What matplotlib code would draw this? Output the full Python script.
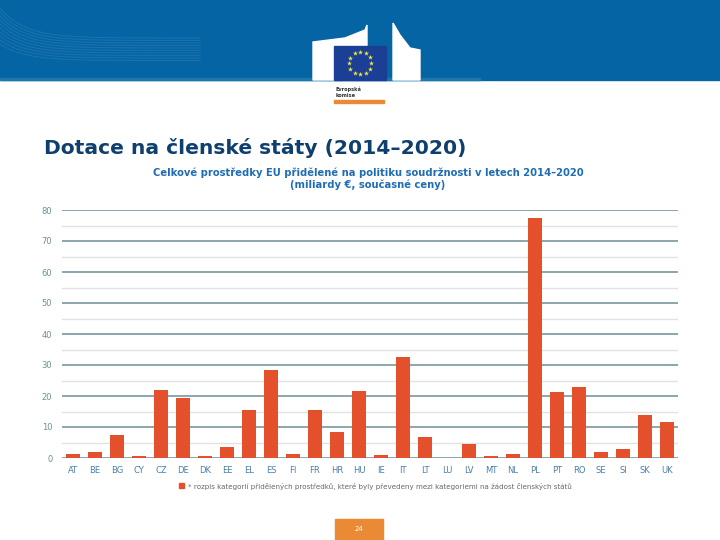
import matplotlib.pyplot as plt
import matplotlib.patches as patches
import numpy as np

# data (billions EUR)
countries = ["AT", "BE", "BG", "CY", "CZ", "DE", "DK", "EE", "EL", "ES", "FI", "FR", "HR", "HU",
             "IE", "IT", "LT", "LU", "LV", "MT", "NL", "PL", "PT", "RO", "SE", "SI", "SK", "UK"]
values = [1.3, 2.0, 7.5, 0.75, 21.9, 19.2, 0.55, 3.4, 15.5, 28.5, 1.4, 15.6, 8.5, 21.7,
          1.1, 32.7, 6.9, 0.06, 4.4, 0.7, 1.4, 77.5, 21.2, 22.8, 2.0, 3.0, 13.8, 11.7]
major_ticks = [0, 10, 20, 30, 40, 50, 60, 70, 80]
minor_ticks = [5, 15, 25, 35, 45, 55, 65, 75]

page_title = "Dotace na členské státy (2014–2020)"
chart_title = "Celkové prostředky EU přidělené na politiku soudržnosti v letech 2014–2020\n(miliardy €, současné ceny)"
legend_text = "* rozpis kategorií přidělených prostředků, které byly převedeny mezi kategoriemi na žádost členských států"
page_no = "24"

W, H = 720, 540
fig = plt.figure(figsize=(W / 100, H / 100), dpi=100)

# background layer in pixel coordinates
bg = fig.add_axes([0, 0, 1, 1])
bg.set_xlim(0, W)
bg.set_ylim(H, 0)
bg.axis("off")

# blue header band
bg.add_patch(patches.Rectangle((0, 0), W, 80, color="#0565a4", zorder=1))
bg.add_patch(patches.Rectangle((0, 78), 480, 2, color="#1f76ab", zorder=2))
# faint curved stripes on the left of the header
for i in range(10):
    xs = np.linspace(0, 200, 60)
    ys = 8 + i * 4 + (30 - i * 1.5) * (1 - np.exp(-xs / 25))
    bg.plot(xs, ys, color="#5d9ccb", lw=0.7, alpha=0.25, zorder=2)

# logo: building silhouette, flag, name and orange bar
bg.add_patch(patches.Polygon([(313, 80), (313, 42), (345, 38), (365, 30), (367, 25), (367, 80)],
                             color="white", zorder=3))
bg.add_patch(patches.Polygon([(393, 80), (393, 23), (400, 35), (410, 48), (420, 50), (420, 80)],
                             color="white", zorder=3))
bg.add_patch(patches.Rectangle((334, 46), 52, 34, color="#1c3f96", zorder=4))
ang = np.linspace(0, 2 * np.pi, 13)[:-1]
bg.scatter(360 + 11 * np.cos(ang), 63 + 11 * np.sin(ang), marker="*", s=14,
           color="#f5e93a", zorder=5, linewidths=0)
bg.text(336, 86, "Evropská\nkomise", fontsize=3.6, fontweight="bold", color="#333333",
        va="top", ha="left", zorder=5, linespacing=1.3)
bg.add_patch(patches.Rectangle((334, 100), 50, 3, color="#e98a35", zorder=4))

# page title
bg.text(44, 148, page_title, fontsize=14.6, fontweight="bold", color="#0f3f6e",
        ha="left", va="center", zorder=5)

# chart title
bg.text(368, 179, chart_title, fontsize=7.2, fontweight="bold", color="#1f6db4",
        ha="center", va="center", linespacing=1.15, zorder=5)

# legend line
bg.add_patch(patches.Rectangle((179, 483), 5, 5, color="#e4502b", zorder=5))
bg.text(188, 486, legend_text, fontsize=5.1, color="#666666", ha="left", va="center", zorder=5)

# page number box
bg.add_patch(patches.Rectangle((335, 519), 48, 21, color="#ea8a35", zorder=5))
bg.text(359, 529, page_no, fontsize=5, color="white", ha="center", va="center", zorder=6)

# main chart
ax = fig.add_axes([62 / W, 1 - 458 / H, 616 / W, 248 / H])
x = np.arange(len(countries))
ax.bar(x, values, width=0.65, color="#e4502b", zorder=3)
ax.set_xlim(-0.5, len(countries) - 0.5)
ax.set_ylim(0, 80)
ax.set_yticks(major_ticks)
ax.set_xticks(x)
ax.set_xticklabels(countries)
for t in minor_ticks:
    ax.axhline(t, color="#e2e2e2", lw=1, zorder=1)
for t in major_ticks:
    ax.axhline(t, color="#6e8e99", lw=1.1, zorder=2)
ax.tick_params(axis="x", length=0, labelsize=6, colors="#4a7fa6", pad=6)
ax.tick_params(axis="y", length=0, labelsize=6, colors="#6a8f9a", pad=7)
for s in ax.spines.values():
    s.set_visible(False)
ax.patch.set_alpha(0)

fig.savefig("out.png", dpi=100)
